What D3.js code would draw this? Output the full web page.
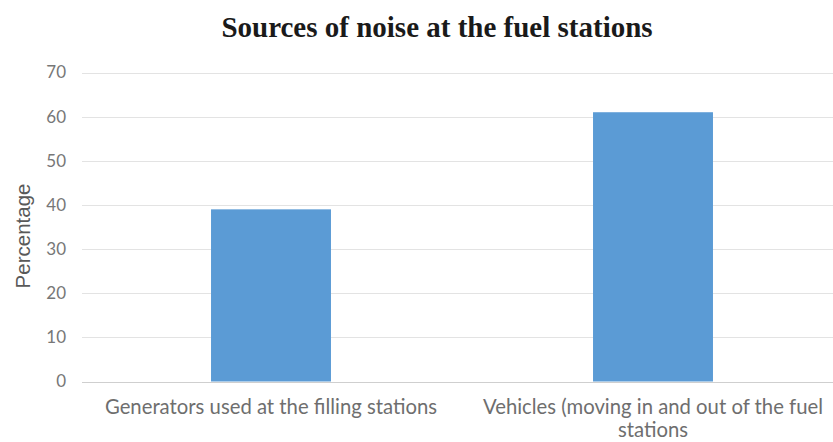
<!DOCTYPE html>
<html>
<head>
<meta charset="utf-8">
<script src="https://cdn.jsdelivr.net/npm/d3@7"></script>
<style>
  html, body { margin: 0; padding: 0; background: #ffffff; }
  svg { display: block; }
</style>
</head>
<body>
<svg id="chart" width="833" height="442"></svg>
<script>
// Chart data
const chartTitle = "Sources of noise at the fuel stations";
const yAxisTitle = "Percentage";
const categories = [
  "Generators used at the filling stations",
  "Vehicles (moving in and out of the fuel stations"
];
const percentages = [39, 61];
const yTicks = [0, 10, 20, 30, 40, 50, 60, 70];

const W = 833, H = 442;
const svg = d3.select("#chart");

const plot = { left: 80, right: 844, top: 72.5, bottom: 381.5, gridStart: 82 };
const labelFont = "Lato, 'Open Sans', sans-serif";

const x = d3.scaleBand()
  .domain(categories)
  .range([plot.left, plot.right])
  .paddingInner(0.686)
  .paddingOuter(0.343);

const y = d3.scaleLinear()
  .domain([0, 70])
  .range([plot.bottom, plot.top]);

// Horizontal gridlines
svg.append("g")
  .selectAll("line")
  .data(yTicks)
  .join("line")
  .attr("x1", plot.gridStart)
  .attr("x2", W)
  .attr("y1", d => Math.round(y(d)) + 0.5)
  .attr("y2", d => Math.round(y(d)) + 0.5)
  .attr("stroke", d => d === 0 ? "#cfcfcf" : "#e3e3e3")
  .attr("stroke-width", 1);

// Y axis tick labels
const yAxis = d3.axisLeft(y).tickValues(yTicks).tickSize(0).tickPadding(0);
const yg = svg.append("g")
  .attr("transform", "translate(66,0)")
  .call(yAxis);
yg.select(".domain").remove();
yg.selectAll("text")
  .attr("font-family", labelFont)
  .attr("font-size", 17)
  .attr("fill", "#777777");

// Bars
svg.append("g")
  .selectAll("rect")
  .data(categories)
  .join("rect")
  .attr("x", d => x(d))
  .attr("width", x.bandwidth())
  .attr("y", (d, i) => y(percentages[i]))
  .attr("height", (d, i) => y(0) - y(percentages[i]))
  .attr("fill", "#5b9bd5");

// Category labels, wrapped beneath each bar
const xg = svg.append("g");
const labelSize = 20.3;
const maxLine = 365;
categories.forEach(cat => {
  const cx = x(cat) + x.bandwidth() / 2;
  const t = xg.append("text")
    .attr("x", cx)
    .attr("y", 414)
    .attr("text-anchor", "middle")
    .attr("font-family", labelFont)
    .attr("font-size", labelSize)
    .attr("fill", "#6e6e6e");
  const words = cat.split(" ");
  let line = [];
  let tspan = t.append("tspan").attr("x", cx).attr("dy", 0);
  words.forEach(w => {
    line.push(w);
    tspan.text(line.join(" "));
    if (tspan.node().getComputedTextLength() > maxLine && line.length > 1) {
      line.pop();
      tspan.text(line.join(" "));
      line = [w];
      tspan = t.append("tspan").attr("x", cx).attr("dy", 23).text(w);
    }
  });
});

// Chart title
svg.append("text")
  .attr("x", 437)
  .attr("y", 37)
  .attr("text-anchor", "middle")
  .attr("font-family", "'Liberation Serif', 'Times New Roman', serif")
  .attr("font-weight", "bold")
  .attr("font-size", 29)
  .attr("fill", "#1a1a1a")
  .text(chartTitle);

// Y axis title
svg.append("text")
  .attr("transform", `translate(30,${236}) rotate(-90)`)
  .attr("text-anchor", "middle")
  .attr("font-family", "'Liberation Sans', Arial, sans-serif")
  .attr("font-size", 20.5)
  .attr("fill", "#595959")
  .text(yAxisTitle);
</script>
</body>
</html>
